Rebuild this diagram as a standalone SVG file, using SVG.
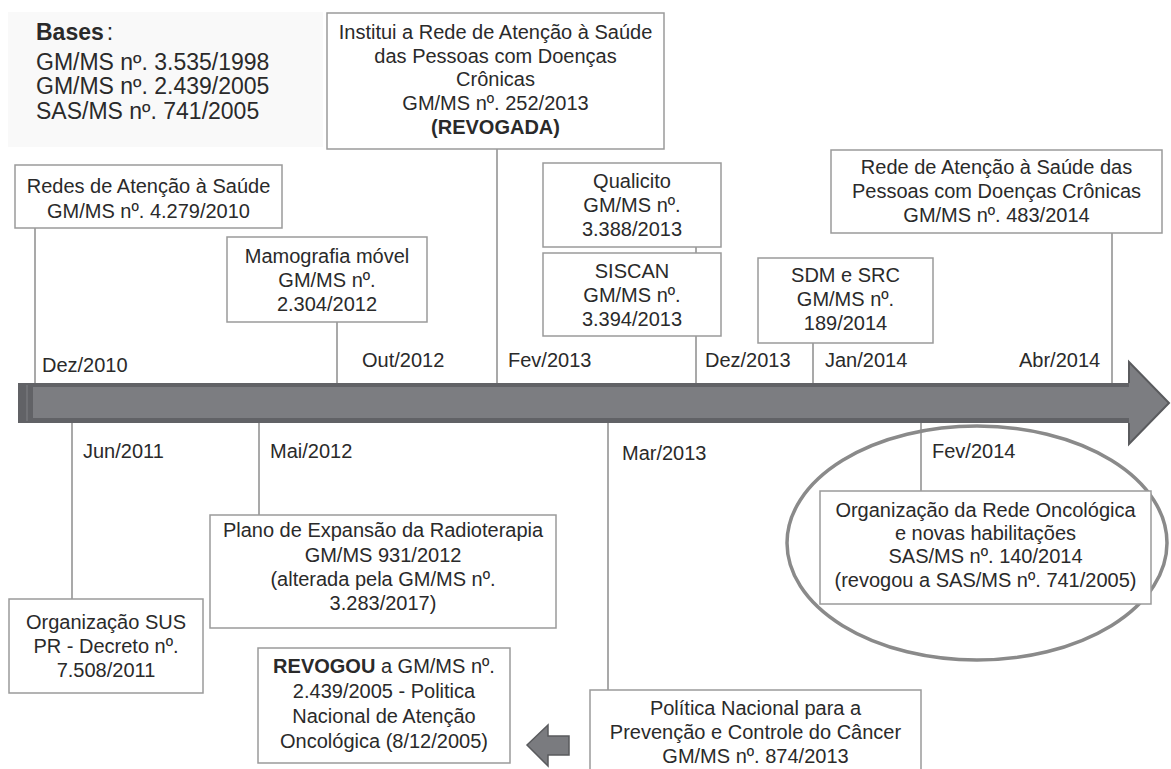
<svg xmlns="http://www.w3.org/2000/svg" width="1171" height="769" viewBox="0 0 1171 769">
<style>
text{font-family:"Liberation Sans",Arial,sans-serif;font-size:20px;fill:#2a2a2a}
.c{text-anchor:middle}
.box{fill:#fff;stroke:#9a9a9a;stroke-width:1.5}
.ln{stroke:#8c8c8c;stroke-width:1.5;fill:none}
.big{font-size:23px}
.b{font-weight:bold}
</style>
<rect width="1171" height="769" fill="#fff"/>
<rect x="8" y="12" width="315" height="135" fill="#f9f9f9"/>
<g id="bases">
<text class="big" x="36" y="40"><tspan class="b">Bases</tspan><tspan dx="3">:</tspan></text>
<text class="big" x="36" y="70">GM/MS nº. 3.535/1998</text>
<text class="big" x="36" y="94">GM/MS nº. 2.439/2005</text>
<text class="big" x="36" y="119">SAS/MS nº. 741/2005</text>
</g>
<g id="connectors">
<line class="ln" x1="35" y1="228" x2="35" y2="384"/>
<line class="ln" x1="337" y1="322" x2="337" y2="384"/>
<line class="ln" x1="497" y1="149" x2="497" y2="384"/>
<line class="ln" x1="696" y1="247" x2="696" y2="253"/>
<line class="ln" x1="696" y1="336" x2="696" y2="384"/>
<line class="ln" x1="813" y1="343" x2="813" y2="384"/>
<line class="ln" x1="1112" y1="233" x2="1112" y2="384"/>
<line class="ln" x1="72" y1="422" x2="72" y2="599"/>
<line class="ln" x1="259" y1="422" x2="259" y2="515"/>
<line class="ln" x1="608" y1="422" x2="608" y2="690"/>
<line class="ln" x1="921" y1="422" x2="921" y2="491"/>
</g>
<g id="timeline-arrow">
<rect x="18" y="383" width="1113" height="40" fill="#616266"/>
<rect x="33" y="387" width="1099" height="31" fill="#7c7d81"/>
<line x1="27" y1="385" x2="27" y2="421" stroke="#76777b" stroke-width="1.5"/>
<path d="M1129,383 L1129,362 L1169,403 L1129,444 L1129,423" fill="#7c7d81" stroke="#5a5b5e" stroke-width="2"/>
</g>
<g id="dates">
<text x="42" y="372">Dez/2010</text>
<text x="362" y="367">Out/2012</text>
<text x="508" y="367">Fev/2013</text>
<text x="705" y="367">Dez/2013</text>
<text x="825" y="367">Jan/2014</text>
<text x="1019" y="367">Abr/2014</text>
<text x="83" y="458">Jun/2011</text>
<text x="270" y="458">Mai/2012</text>
<text x="622" y="460">Mar/2013</text>
<text x="932" y="458">Fev/2014</text>
</g>
<g id="n-redes2010">
<rect class="box" x="15" y="165" width="267" height="63"/>
<text class="c" x="148.5" y="193">Redes de Atenção à Saúde</text>
<text class="c" x="148.5" y="218">GM/MS nº. 4.279/2010</text>
</g>
<g id="n-institui">
<rect class="box" x="327" y="13" width="337" height="136"/>
<text class="c" x="495.5" y="39">Institui a Rede de Atenção à Saúde</text>
<text class="c" x="495.5" y="63">das Pessoas com Doenças</text>
<text class="c" x="495.5" y="86">Crônicas</text>
<text class="c" x="495.5" y="110">GM/MS nº. 252/2013</text>
<text class="c b" x="495.5" y="134">(REVOGADA)</text>
</g>
<g id="n-qualicito">
<rect class="box" x="543" y="163" width="178" height="84"/>
<text class="c" x="632" y="188">Qualicito</text>
<text class="c" x="632" y="212">GM/MS nº.</text>
<text class="c" x="632" y="236">3.388/2013</text>
</g>
<g id="n-siscan">
<rect class="box" x="543" y="253" width="178" height="83"/>
<text class="c" x="632" y="278">SISCAN</text>
<text class="c" x="632" y="302">GM/MS nº.</text>
<text class="c" x="632" y="326">3.394/2013</text>
</g>
<g id="n-mamografia">
<rect class="box" x="227" y="237" width="200" height="85"/>
<text class="c" x="327" y="263">Mamografia móvel</text>
<text class="c" x="327" y="287">GM/MS nº.</text>
<text class="c" x="327" y="311">2.304/2012</text>
</g>
<g id="n-sdm">
<rect class="box" x="758" y="258" width="175" height="85"/>
<text class="c" x="845.5" y="282">SDM e SRC</text>
<text class="c" x="845.5" y="306">GM/MS nº.</text>
<text class="c" x="845.5" y="330">189/2014</text>
</g>
<g id="n-rede2014">
<rect class="box" x="831" y="150" width="331" height="83"/>
<text class="c" x="996.5" y="174">Rede de Atenção à Saúde das</text>
<text class="c" x="996.5" y="198">Pessoas com Doenças Crônicas</text>
<text class="c" x="996.5" y="222">GM/MS nº. 483/2014</text>
</g>
<g id="n-sus">
<rect class="box" x="9" y="599" width="194" height="94"/>
<text class="c" x="106" y="629">Organização SUS</text>
<text class="c" x="106" y="653">PR - Decreto nº.</text>
<text class="c" x="106" y="677">7.508/2011</text>
</g>
<g id="n-plano">
<rect class="box" x="210" y="515" width="346" height="113"/>
<text class="c" x="383" y="537">Plano de Expansão da Radioterapia</text>
<text class="c" x="383" y="562">GM/MS 931/2012</text>
<text class="c" x="383" y="586">(alterada pela GM/MS nº.</text>
<text class="c" x="383" y="610">3.283/2017)</text>
</g>
<g id="n-revogou">
<rect class="box" x="258" y="648" width="252" height="115"/>
<text class="c" x="384" y="673"><tspan class="b">REVOGOU</tspan> a GM/MS nº.</text>
<text class="c" x="384" y="698">2.439/2005 - Politica</text>
<text class="c" x="384" y="723">Nacional de Atenção</text>
<text class="c" x="384" y="748">Oncológica (8/12/2005)</text>
</g>
<g id="n-small-arrow">
<path d="M527,745 L548,725 L548,736 L569,736 L569,755 L548,755 L548,766 Z" fill="#7a7b7f" stroke="#5a5b5e" stroke-width="1.5"/>
</g>
<g id="n-politica">
<rect class="box" x="590" y="690" width="331" height="90"/>
<text class="c" x="755.5" y="715">Política Nacional para a</text>
<text class="c" x="755.5" y="739">Prevenção e Controle do Câncer</text>
<text class="c" x="755.5" y="763">GM/MS nº. 874/2013</text>
</g>
<g id="n-oncologica">
<ellipse cx="977" cy="543" rx="190" ry="117" fill="none" stroke="#8a8a8a" stroke-width="3.5"/>
<rect class="box" x="820" y="491" width="331" height="113"/>
<text class="c" x="985.5" y="517">Organização da Rede Oncológica</text>
<text class="c" x="985.5" y="540">e novas habilitações</text>
<text class="c" x="985.5" y="563">SAS/MS nº. 140/2014</text>
<text class="c" x="985.5" y="587">(revogou a SAS/MS nº. 741/2005)</text>
</g>
</svg>
